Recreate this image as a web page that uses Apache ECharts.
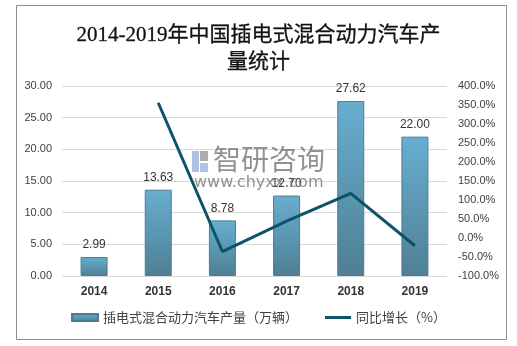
<!DOCTYPE html>
<html>
<head>
<meta charset="utf-8">
<script src="https://cdn.jsdelivr.net/npm/echarts@6/dist/echarts.min.js"></script>
<style>html,body{margin:0;padding:0;background:#fff}#c{width:517px;height:346px}</style>
</head>
<body>
<div id="c"></div>
<script>
var categories = ['2014', '2015', '2016', '2017', '2018', '2019'];
var production = [2.99, 13.63, 8.78, 12.70, 27.62, 22.00];
var growth = ['-', 355.9, -35.6, 44.6, 117.5, -20.3];
var leftTicks = { min: 0, max: 30, interval: 5 };
var rightTicks = { min: -100, max: 400, interval: 50 };
var barName = '插电式混合动力汽车产量（万辆）';
var lineName = '同比增长（%）';

var chart = echarts.init(document.getElementById('c'), null, { renderer: 'canvas' });
var labelColor = '#404040';
chart.setOption({
  animation: false,
  backgroundColor: '#fff',
  title: {
    text: '2014-2019年中国插电式混合动力汽车产\n量统计',
    left: 'center',
    top: 17,
    textStyle: {
      fontFamily: '"Liberation Serif", "Noto Sans CJK SC", serif',
      fontSize: 21,
      fontWeight: 'normal',
      lineHeight: 27,
      color: '#111',
      textBorderColor: '#111',
      textBorderWidth: 0.3
    }
  },
  graphic: [
    { type: 'rect', shape: { x: 16.5, y: 5.5, width: 490, height: 334 }, style: { fill: 'none', stroke: '#8c8c8c', lineWidth: 1 }, silent: true, z: 100 },
    { type: 'rect', shape: { x: 192, y: 151, width: 7, height: 21 }, style: { fill: 'rgba(120,150,200,0.6)' }, z: 50, silent: true },
    { type: 'rect', shape: { x: 200, y: 151, width: 8, height: 10 }, style: { fill: 'rgba(120,120,120,0.6)' }, z: 50, silent: true },
    { type: 'rect', shape: { x: 200, y: 163, width: 8, height: 9 }, style: { fill: 'rgba(120,160,210,0.6)' }, z: 50, silent: true },
    { type: 'text', x: 213, y: 145, style: { text: '智研咨询', font: '28px "Noto Sans CJK SC"', fill: 'rgba(110,110,110,0.75)' }, z: 50, silent: true },
    { type: 'text', x: 194, y: 175, style: { text: 'www.chyxx.com', font: '16px "DejaVu Sans"', fill: 'rgba(110,110,110,0.75)' }, z: 50, silent: true }
  ],
  grid: { left: 62, right: 70, top: 86, bottom: 70 },
  legend: {
    bottom: 17,
    left: 'center',
    itemGap: 27,
    itemWidth: 26,
    itemHeight: 7,
    textStyle: { color: labelColor, fontSize: 13, fontFamily: '"Noto Sans CJK SC", sans-serif' },
    data: [
      { name: barName, icon: 'rect' },
      { name: lineName, icon: 'path://M0,0 L0,0 M0,2 L26,2 L26,5 L0,5 Z M26,7 L26,7' }
    ]
  },
  xAxis: {
    type: 'category',
    data: categories,
    axisLine: { show: false },
    axisTick: { show: false },
    axisLabel: { color: '#333', fontSize: 12, fontWeight: 'bold', margin: 10, fontFamily: '"Liberation Sans", Arial, sans-serif' }
  },
  yAxis: [
    {
      type: 'value', min: leftTicks.min, max: leftTicks.max, interval: leftTicks.interval,
      axisLine: { show: false }, axisTick: { show: false },
      axisLabel: { color: labelColor, fontSize: 11, margin: 10, formatter: function (v) { return v.toFixed(2); }, fontFamily: '"Liberation Sans", Arial, sans-serif' },
      splitLine: { lineStyle: { color: '#d9d9d9', width: 1 } }
    },
    {
      type: 'value', min: rightTicks.min, max: rightTicks.max, interval: rightTicks.interval,
      axisLine: { show: false }, axisTick: { show: false },
      axisLabel: { color: labelColor, fontSize: 11, margin: 11, formatter: function (v) { return v.toFixed(1) + '%'; }, fontFamily: '"Liberation Sans", Arial, sans-serif' },
      splitLine: { show: false }
    }
  ],
  series: [
    {
      name: barName,
      type: 'bar',
      yAxisIndex: 0,
      data: production,
      barWidth: 27,
      itemStyle: {
        color: new echarts.graphic.LinearGradient(0, 0, 0, 1, [
          { offset: 0, color: '#68aed0' },
          { offset: 1, color: '#4f7f94' }
        ]),
        borderColor: '#4a7d93',
        borderWidth: 1
      },
      label: {
        show: true, position: 'top', distance: 6, color: '#333', fontSize: 12,
        fontFamily: '"Liberation Sans", Arial, sans-serif',
        formatter: function (p) { return p.value.toFixed(2); }
      }
    },
    {
      name: lineName,
      type: 'line',
      yAxisIndex: 1,
      data: growth,
      symbol: 'none',
      showSymbol: false,
      lineStyle: { color: '#0d5468', width: 3 },
      itemStyle: { color: '#0d5468' },
      z: 5
    }
  ]
});
</script>
</body>
</html>
